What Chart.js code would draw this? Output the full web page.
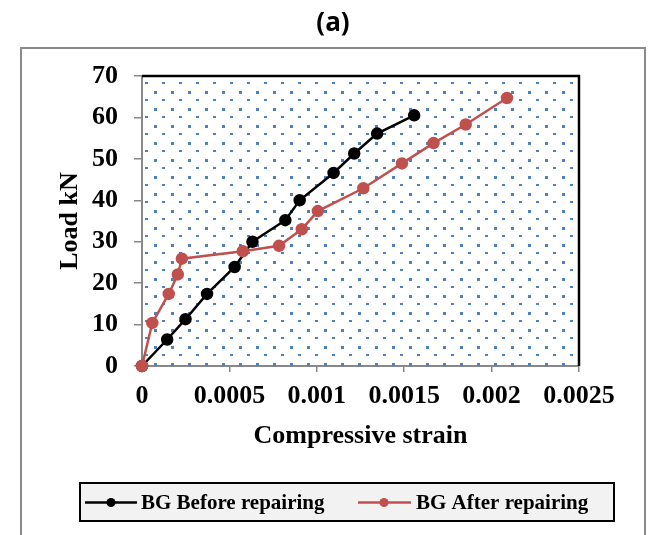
<!DOCTYPE html>
<html>
<head>
<meta charset="utf-8">
<script src="https://cdn.jsdelivr.net/npm/chart.js@4/dist/chart.umd.min.js"></script>
<style>
  body { margin: 0; background: #fff; }
  #wrap { width: 650px; height: 535px; }
</style>
</head>
<body>
<div id="wrap"><canvas id="chart" width="650" height="535"></canvas></div>
<script>
// Dati
const beforeStrain = [0, 0.000144, 0.000249, 0.000372, 0.00053, 0.000632, 0.00082, 0.000902, 0.001096, 0.001214, 0.001345, 0.001557];
const beforeLoad = [0, 6.4, 11.3, 17.4, 23.9, 30.0, 35.2, 40.0, 46.6, 51.3, 56.1, 60.5];
const afterStrain = [0, 0.000059, 0.000153, 0.000205, 0.000228, 0.000577, 0.000784, 0.000914, 0.001006, 0.001266, 0.001487, 0.001668, 0.001852, 0.002088];
const afterLoad = [0, 10.4, 17.4, 22.1, 25.9, 27.7, 29.0, 33.0, 37.4, 42.9, 48.9, 53.8, 58.3, 64.7];
const xTickLabels = ['0', '0.0005', '0.001', '0.0015', '0.002', '0.0025'];
const yTickLabels = ['0', '10', '20', '30', '40', '50', '60', '70'];

const serif = 'Liberation Serif, Times New Roman, serif';
const toPoints = (xs, ys) => xs.map((x, i) => ({ x: x, y: ys[i] }));

// Sfondo a puntini, bordi e legenda
const decor = {
  id: 'decor',
  beforeDatasetsDraw(chart) {
    const { ctx, chartArea: a } = chart;
    ctx.save();
    ctx.beginPath();
    ctx.rect(a.left, a.top, a.right - a.left, a.bottom - a.top);
    ctx.clip();
    ctx.fillStyle = '#4f81bd';
    for (let y = a.top + 6; y < a.bottom; y += 17) {
      for (let x = a.left + 3; x < a.right; x += 17) {
        ctx.fillRect(x, y, 3, 2);
        ctx.fillRect(x + 9, y + 9, 3, 3);
      }
    }
    ctx.restore();
  },
  afterDraw(chart) {
    const { ctx, chartArea: a } = chart;
    ctx.save();
    // bordo superiore e destro del grafico
    ctx.strokeStyle = '#000';
    ctx.lineWidth = 2.5;
    ctx.beginPath();
    ctx.moveTo(a.left, a.top);
    ctx.lineTo(a.right, a.top);
    ctx.lineTo(a.right, a.bottom);
    ctx.stroke();

    // cornice esterna
    ctx.strokeStyle = '#8a8a8a';
    ctx.lineWidth = 2;
    ctx.strokeRect(21, 48, 624, 500);

    // titolo
    ctx.fillStyle = '#000';
    ctx.font = 'bold 26px "Open Sans"';
    ctx.textAlign = 'center';
    ctx.textBaseline = 'middle';
    ctx.fillText('(a)', 333, 24);

    // legenda
    ctx.fillStyle = '#f2f2f2';
    ctx.fillRect(80, 483, 534, 38);
    ctx.strokeStyle = '#000';
    ctx.lineWidth = 2;
    ctx.strokeRect(80, 483, 534, 38);
    const entries = [[85, 137, 111, 141], [358, 411, 384, 416]];
    chart.data.datasets.forEach((ds, i) => {
      const [x0, x1, xd, xt] = entries[i];
      const yc = 502.5;
      ctx.strokeStyle = ds.borderColor;
      ctx.lineWidth = 2.5;
      ctx.beginPath();
      ctx.moveTo(x0, yc);
      ctx.lineTo(x1, yc);
      ctx.stroke();
      ctx.fillStyle = ds.borderColor;
      ctx.beginPath();
      ctx.arc(xd, yc, 4.5, 0, Math.PI * 2);
      ctx.fill();
      ctx.fillStyle = '#000';
      ctx.font = 'bold 21px ' + serif;
      ctx.textAlign = 'left';
      ctx.fillText(ds.label, xt, yc + 1);
    });
    ctx.restore();
  }
};

new Chart(document.getElementById('chart'), {
  type: 'scatter',
  data: {
    datasets: [
      {
        label: 'BG Before repairing',
        data: toPoints(beforeStrain, beforeLoad),
        showLine: true,
        clip: false,
        borderColor: '#000000',
        backgroundColor: '#000000',
        borderWidth: 2.5,
        pointRadius: 5,
        pointHoverRadius: 5,
        order: 2
      },
      {
        label: 'BG After repairing',
        data: toPoints(afterStrain, afterLoad),
        showLine: true,
        clip: false,
        borderColor: '#c0504d',
        backgroundColor: '#c0504d',
        borderWidth: 2.5,
        pointRadius: 5,
        pointHoverRadius: 5,
        order: 1
      }
    ]
  },
  options: {
    responsive: false,
    animation: false,
    layout: { padding: { left: 55, right: 71, top: 76, bottom: 83 } },
    plugins: {
      legend: { display: false },
      tooltip: { enabled: false }
    },
    scales: {
      x: {
        type: 'linear',
        min: 0,
        max: 0.0025,
        afterFit: (s) => { s.height = 86; },
        afterBuildTicks: (s) => { s.ticks = xTickLabels.map((t, i) => ({ value: i * 0.0005 })); },
        ticks: {
          color: '#000',
          padding: 9,
          maxRotation: 0,
          font: { family: serif, weight: 'bold', size: 26 },
          callback: (v, i) => xTickLabels[i]
        },
        grid: { drawOnChartArea: false, tickLength: 6, color: '#888', lineWidth: 1.5 },
        border: { color: '#888', width: 2 },
        title: {
          display: true,
          text: 'Compressive strain',
          color: '#000',
          padding: 0,
          font: { family: serif, weight: 'bold', size: 26, lineHeight: 1.2 }
        }
      },
      y: {
        min: 0,
        max: 70,
        afterFit: (s) => { s.width = 87; },
        afterBuildTicks: (s) => { s.ticks = yTickLabels.map((t, i) => ({ value: i * 10 })); },
        ticks: {
          color: '#000',
          padding: 16,
          font: { family: serif, weight: 'bold', size: 26 },
          callback: (v, i) => yTickLabels[i]
        },
        grid: { drawOnChartArea: false, tickLength: 8, color: '#888', lineWidth: 1.5 },
        border: { color: '#888', width: 2 },
        title: {
          display: true,
          text: 'Load kN',
          color: '#000',
          padding: 0,
          font: { family: serif, weight: 'bold', size: 26, lineHeight: 1.2 }
        }
      }
    }
  },
  plugins: [decor]
});
</script>
</body>
</html>
